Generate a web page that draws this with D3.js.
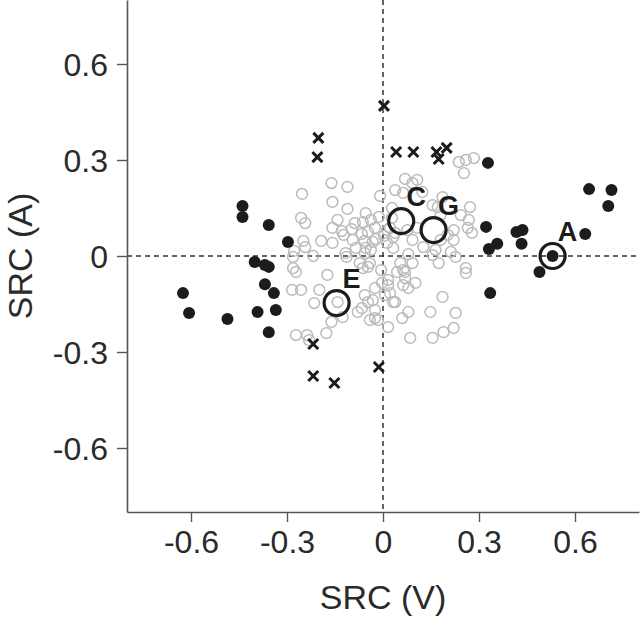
<!DOCTYPE html>
<html>
<head>
<meta charset="utf-8">
<script src="https://cdn.jsdelivr.net/npm/d3@7/dist/d3.min.js"></script>
<style>
  html, body { margin: 0; padding: 0; background: #fff; }
  svg { display: block; }
  text { font-family: "Liberation Sans", Arial, Helvetica, sans-serif; }
</style>
</head>
<body>
<svg id="chart" width="640" height="618"></svg>
<script>
// ---- data (SRC(V), SRC(A)) ----
const greyV = [-0.161,-0.111,-0.253,-0.158,-0.111,-0.256,-0.243,-0.142,-0.158,-0.129,-0.088,-0.098,-0.054,-0.063,-0.038,-0.013,-0.009,0.028,
  -0.249,-0.243,-0.193,-0.158,-0.123,-0.095,-0.066,-0.047,-0.057,-0.054,-0.085,-0.022,-0.117,-0.218,-0.278,-0.281,0.013,0.038,0.032,-0.025,0.022,-0.032,-0.038,
  0.237,0.259,0.284,0.253,0.069,0.092,0.107,0.038,0.063,0.123,0.155,0.186,0.171,0.180,0.272,0.028,0.243,0.268,0.265,0.278,0.013,0.032,0.076,0.107,0.092,0.180,0.202,0.221,0.221,0.126,0.164,0.212,0.003,
  -0.057,-0.063,-0.047,-0.281,-0.272,-0.174,-0.006,0.054,0.069,0.092,0.079,0.155,0.174,0.227,0.259,0.259,
  -0.284,-0.256,-0.199,-0.215,-0.142,-0.057,-0.047,-0.025,-0.003,0.016,0.006,0.038,-0.032,0.063,0.101,0.079,0.186,
  -0.066,-0.025,-0.025,-0.016,0.060,0.079,0.148,0.227,-0.161,-0.126,-0.079,0.016,-0.272,-0.237,-0.231,-0.177,0.085,0.155,0.189,0.221,
  0.069,0.022,0.032,0.044,0.063,0.016,-0.073,-0.041,-0.114,-0.041];
const greyA = [0.228,0.216,0.194,0.169,0.147,0.119,0.103,0.113,0.088,0.078,0.103,0.084,0.134,0.106,0.113,0.122,0.188,0.150,
  0.047,0.028,0.047,0.041,0.066,0.050,0.069,0.075,0.047,0.025,0.025,0.053,0.009,0.000,0.016,-0.003,0.041,0.072,0.025,0.088,0.088,0.044,0.019,
  0.294,0.300,0.306,0.259,0.241,0.228,0.238,0.206,0.197,0.200,0.159,0.184,0.153,0.128,0.153,0.119,0.128,0.113,0.088,0.072,0.081,0.059,0.081,0.088,0.050,0.050,0.066,0.081,0.050,0.028,0.019,0.013,0.063,
  0.009,-0.038,-0.034,-0.038,-0.050,-0.059,-0.044,-0.022,-0.050,-0.022,0.006,0.003,-0.022,-0.003,-0.038,-0.053,
  -0.106,-0.106,-0.106,-0.147,-0.144,-0.122,-0.144,-0.100,-0.084,-0.091,-0.122,-0.144,-0.138,-0.091,-0.084,-0.100,-0.128,
  -0.163,-0.169,-0.194,-0.200,-0.194,-0.175,-0.175,-0.178,-0.206,-0.191,-0.175,-0.222,-0.247,-0.247,-0.263,-0.241,-0.256,-0.256,-0.238,-0.225,
  -0.069,-0.116,-0.144,-0.050,-0.044,-0.075,-0.022,-0.022,-0.003,-0.200];

const filledV = [-0.625,-0.606,-0.486,-0.439,-0.439,-0.357,-0.297,-0.401,-0.369,-0.357,-0.369,-0.341,-0.392,-0.335,-0.357,
  0.328,0.322,0.331,0.357,0.335,0.417,0.436,0.433,0.489,0.530,0.632,0.644,0.714,0.704];
const filledA = [-0.116,-0.178,-0.197,0.156,0.122,0.097,0.044,-0.019,-0.028,-0.034,-0.088,-0.116,-0.175,-0.169,-0.238,
  0.291,0.091,0.022,0.038,-0.116,0.075,0.081,0.038,-0.050,0.000,0.069,0.209,0.206,0.156];

const crossV = [0.003,-0.202,-0.205,0.041,0.095,0.167,0.174,0.199,-0.218,-0.218,-0.152,-0.013];
const crossA = [0.469,0.369,0.309,0.325,0.325,0.325,0.303,0.338,-0.275,-0.375,-0.397,-0.347];

const markLabels = ["A", "C", "G", "E"];
const markV = [0.530, 0.057, 0.158, -0.145];
const markA = [0.000, 0.109, 0.081, -0.147];

const xTicks = [-0.6, -0.3, 0, 0.3, 0.6];
const yTicks = [-0.6, -0.3, 0, 0.3, 0.6];
const xTickLabels = ["-0.6", "-0.3", "0", "0.3", "0.6"];
const yTickLabels = ["-0.6", "-0.3", "0", "0.3", "0.6"];
const xTitle = "SRC (V)";
const yTitle = "SRC (A)";

// ---- drawing ----
const svg = d3.select("#chart");
const x = d3.scaleLinear().domain([-0.8, 0.8]).range([127, 639]);
const y = d3.scaleLinear().domain([-0.8, 0.8]).range([512, 0]);

const ink = "#2a2a2a";
const axisCol = "#555";

// zero reference lines
svg.append("line").attr("x1", x(0)).attr("x2", x(0)).attr("y1", y(0.8)).attr("y2", y(-0.8))
  .attr("stroke", "#333").attr("stroke-width", 1.5).attr("stroke-dasharray", "5,4");
svg.append("line").attr("x1", x(-0.8)).attr("x2", x(0.8)).attr("y1", y(0)).attr("y2", y(0))
  .attr("stroke", "#333").attr("stroke-width", 1.5).attr("stroke-dasharray", "5,4");

// axes
const xAxis = svg.append("g").attr("transform", `translate(0,${y(-0.8)})`)
  .call(d3.axisBottom(x).tickValues(xTicks).tickSize(10).tickSizeOuter(0).tickFormat((d, i) => xTickLabels[i]));
const yAxis = svg.append("g").attr("transform", `translate(${x(-0.8)},0)`)
  .call(d3.axisLeft(y).tickValues(yTicks).tickSize(10).tickSizeOuter(0).tickFormat((d, i) => yTickLabels[i]));
[xAxis, yAxis].forEach(g => {
  g.select(".domain").attr("stroke", axisCol).attr("stroke-width", 1.6);
  g.selectAll(".tick line").attr("stroke", axisCol).attr("stroke-width", 1.4);
  g.selectAll(".tick text").attr("fill", ink).attr("font-size", 32)
    .attr("font-family", '"Liberation Sans", Arial, sans-serif');
});
xAxis.selectAll(".tick text").attr("dy", "0.95em").attr("y", 11);
yAxis.selectAll(".tick text").attr("x", -19).attr("dy", "0.35em");

// axis titles
svg.append("text").attr("x", x(0)).attr("y", 609).attr("text-anchor", "middle")
  .attr("font-size", 34).attr("fill", ink).text(xTitle);
svg.append("text").attr("transform", `translate(32,${y(0)}) rotate(-90)`).attr("text-anchor", "middle")
  .attr("font-size", 34).attr("fill", ink).text(yTitle);

// grey open circles
svg.append("g").selectAll("circle").data(greyV.map((v, i) => [v, greyA[i]])).join("circle")
  .attr("cx", d => x(d[0])).attr("cy", d => y(d[1])).attr("r", 5.4)
  .attr("fill", "none").attr("stroke", "#bbbbbb").attr("stroke-width", 1.5);

// filled black points
svg.append("g").selectAll("circle").data(filledV.map((v, i) => [v, filledA[i]])).join("circle")
  .attr("cx", d => x(d[0])).attr("cy", d => y(d[1])).attr("r", 6)
  .attr("fill", "#1c1c1c");

// crosses
const cs = 5;
svg.append("g").selectAll("path").data(crossV.map((v, i) => [v, crossA[i]])).join("path")
  .attr("d", d => {
    const cx = x(d[0]), cy = y(d[1]);
    return `M${cx - cs},${cy - cs}L${cx + cs},${cy + cs}M${cx - cs},${cy + cs}L${cx + cs},${cy - cs}`;
  })
  .attr("stroke", "#1c1c1c").attr("stroke-width", 3).attr("fill", "none");

// highlighted points
const marks = markLabels.map((l, i) => ({ l, v: markV[i], a: markA[i] }));
svg.append("g").selectAll("circle").data(marks).join("circle")
  .attr("cx", d => x(d.v)).attr("cy", d => y(d.a)).attr("r", 12.5)
  .attr("fill", "none").attr("stroke", "#1c1c1c").attr("stroke-width", 3.2);
svg.append("g").selectAll("text").data(marks).join("text")
  .attr("x", d => x(d.v) + 15).attr("y", d => y(d.a) - 15)
  .attr("text-anchor", "middle").attr("font-size", 27).attr("font-weight", "bold")
  .attr("fill", "#1c1c1c").text(d => d.l);
</script>
</body>
</html>
